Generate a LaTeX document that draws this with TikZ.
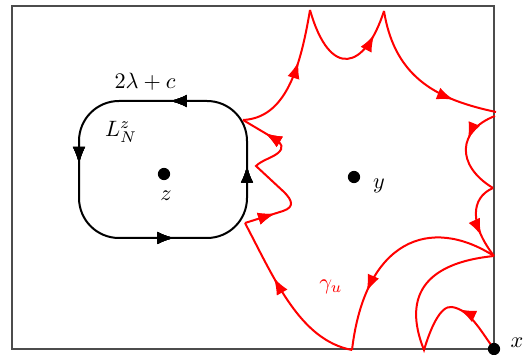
\documentclass[tikz,border=0pt]{standalone}
\usetikzlibrary{arrows.meta,decorations.markings}
\begin{document}
\begin{tikzpicture}[x=0.45pt,y=-0.45pt,
  redc/.style={red,line width=0.9pt},
  loopc/.style={black,line width=0.9pt},
  dotn/.style={circle,fill=black,inner sep=0pt,minimum size=5.5pt},
  arrat/.style={postaction={decorate},decoration={markings,mark=at position #1 with {\arrow{Latex[length=7.6pt,width=5.6pt]}}}},
]
\useasboundingbox (0,0) rectangle (524,355);
\draw[black!70,line width=0.5pt] (12,6) rectangle (494,349);

% black loop
\draw[loopc,rounded corners=18pt,arrat=13.5pt,arrat=75pt,arrat=143.5pt,arrat=201pt]
  (200,101) -- (79,101) -- (79,238) -- (247,238) -- (247,101) -- (199,101);

% junction coordinates
\coordinate (jU) at (243,120);
\coordinate (jL) at (245,223);
\coordinate (p1) at (310,10);
\coordinate (p2) at (384,11);
\coordinate (r1) at (496,112);
\coordinate (r1b) at (495,116);
\coordinate (r2) at (493,188);
\coordinate (r3) at (494,256);
\coordinate (b1) at (352,350);
\coordinate (b2) at (424,350);
\coordinate (xc) at (494,349);

% red curve gamma_u
\draw[redc,arrat=0.62] (jU) .. controls (285,118) and (300,70) .. (p1);
\draw[redc,arrat=0.8] (p1) .. controls (330,80) and (365,70) .. (p2);
\draw[redc,arrat=0.73] (p2) .. controls (395,80) and (440,100) .. (r1);
\draw[redc,arrat=0.38] (r1b) .. controls (458,130) and (455,165) .. (r2);
\draw[redc,arrat=0.7] (r2) .. controls (470,198) and (470,225) .. (r3);
\draw[redc,arrat=0.72] (r3) .. controls (430,215) and (365,240) .. (b1);
\draw[redc,arrat=0.64] (b1) .. controls (300,340) and (275,280) .. (jL);
\draw[redc,arrat=0.17,arrat=0.86] (jL) -- (283,211)
  .. controls (295,207) and (292,200) .. (284,192) -- (256,166)
  .. controls (262,160) and (272,158) .. (278,153)
  .. controls (284,148) and (282,143) .. (275,139) -- (jU);
\draw[redc,arrat=24pt] (xc) .. controls (480,330) and (470,310) .. (452,307)
  .. controls (440,305) and (430,330) .. (b2)
  .. controls (410,315) and (405,265) .. (r3);

% points and labels
\node[dotn] (z) at (164,174) {};
\node[dotn] (y) at (354,177) {};
\node[dotn] (x) at (xc) {};
\node (zl) at (166,196) {$z$};
\node (yl) at (379,186) {$y$};
\node (xl) at (517,343) {$x$};
\node (lam) at (145,82) {$2\lambda+c$};
\node (LN) at (121,132) {$L_N^z$};
\node[red] (gam) at (331,287) {$\gamma_u$};
\end{tikzpicture}
\end{document}
